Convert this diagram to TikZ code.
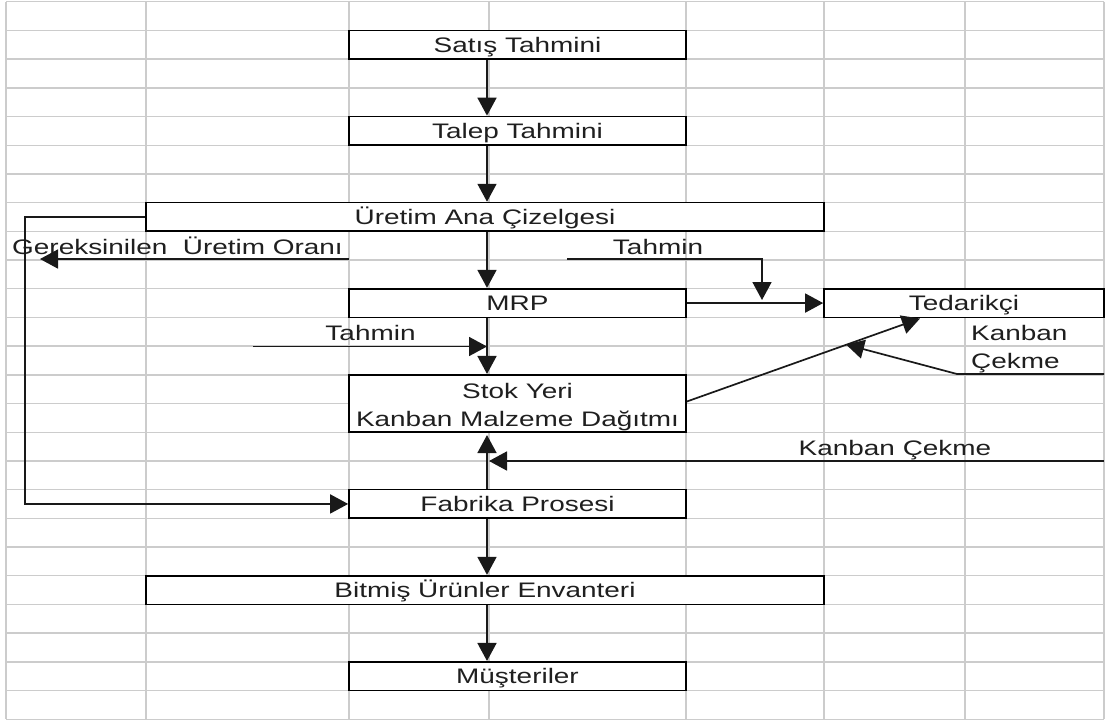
\documentclass[tikz,border=0pt]{standalone}
\usepackage{fontspec}
\setmainfont{Liberation Sans}
\usepackage{graphicx}
\usetikzlibrary{arrows.meta}
\newcommand\wt[1]{\scalebox{1.33}[1]{#1}}
\begin{document}
\begin{tikzpicture}[x=1pt,y=-1pt,
  gridline/.style={draw=gray!40, line width=1.4pt},
  box/.style={draw=black, line width=1.7pt, fill=white, inner sep=0pt,
    minimum height=28.7pt, text height=15pt, text depth=0pt,
    font=\fontsize{21}{28.5}\selectfont, text=black!88},
  lbl/.style={inner sep=0pt, text height=15pt, text depth=0pt,
    font=\fontsize{21}{28.5}\selectfont, text=black!88},
  conn/.style={draw=black!90, line width=1.7pt},
  arr/.style={conn, -{Triangle[length=18pt,width=19pt]}}]
\useasboundingbox (0,0) rectangle (1108,724);
\fill[white] (0,0) rectangle (1108,724);
% spreadsheet grid
\foreach \k in {0,...,25}
  \draw[gridline] (6,{1.7+28.7*\k}) -- (1104,{1.7+28.7*\k});
\foreach \xx in {6,146,349,489,686,824,965,1104}
  \draw[gridline] (\xx,1.7) -- (\xx,719.2);
% boxes
\node[box, minimum width=337pt] (satis) at (517.5,44.75) {\wt{Satış Tahmini}};
\node[box, minimum width=337pt] (talep) at (517.5,130.85) {\wt{Talep Tahmini}};
\node[box, minimum width=678pt] (uretim) at (485,216.95) {\wt{Üretim Ana Çizelgesi}};
\node[box, minimum width=337pt] (mrp) at (517.5,303.05) {\wt{MRP}};
\node[box, minimum width=280pt] (ted) at (964,303.05) {\wt{Tedarikçi}};
\node[box, minimum width=337pt, minimum height=57.4pt] (stok) at (517.5,403.5) {};
\node[lbl] (stok1) at (517.5,390.5) {\wt{Stok Yeri}};
\node[lbl] (stok2) at (517.5,419) {\wt{Kanban Malzeme Dağıtmı}};
\node[box, minimum width=337pt] (fab) at (517.5,503.95) {\wt{Fabrika Prosesi}};
\node[box, minimum width=678pt] (bitmis) at (485,590.05) {\wt{Bitmiş Ürünler Envanteri}};
\node[box, minimum width=337pt] (must) at (517.5,676.15) {\wt{Müşteriler}};
% free labels
\node[lbl, anchor=west] (gerek) at (12,247) {\wt{Gereksinilen\ \ Üretim Oranı}};
\node[lbl] (tah1) at (658,247) {\wt{Tahmin}};
\node[lbl] (tah2) at (370.5,333) {\wt{Tahmin}};
\node[lbl, anchor=west] (kan1) at (971,332.5) {\wt{Kanban}};
\node[lbl, anchor=west] (kan2) at (971,361) {\wt{Çekme}};
\node[lbl] (kan3) at (895,448) {\wt{Kanban Çekme}};
% coordinates
\coordinate (ax) at (487,0);
\coordinate (lc) at (25,0);
\coordinate (g1) at (349,259);
\coordinate (g2) at (40,259);
\coordinate (t1) at (567,259);
\coordinate (t3) at (762,300);
\coordinate (u1) at (253,346.5);
\coordinate (u2) at (487,346.5);
\coordinate (s2) at (920,318.5);
\coordinate (k1) at (1104,374);
\coordinate (k2) at (957,374);
\coordinate (k3) at (846,344.5);
\coordinate (m1) at (1104,461);
\coordinate (m2) at (489,461);
% vertical chain
\draw[arr] (satis.south -| ax) -- (talep.north -| ax);
\draw[arr] (talep.south -| ax) -- (uretim.north -| ax);
\draw[arr] (uretim.south -| ax) -- (mrp.north -| ax);
\draw[arr] (mrp.south -| ax) -- (stok.north -| ax);
\draw[arr, shorten >=2pt] (fab.north -| ax) -- (stok.south -| ax);
\draw[arr] (fab.south -| ax) -- (bitmis.north -| ax);
\draw[arr] (bitmis.south -| ax) -- (must.north -| ax);
% side connectors
\draw[arr] (uretim.west) -| (lc |- fab.west) -- (fab.west);
\draw[arr] (g1) -- (g2);
\draw[arr] (t1) -| (t3);
\draw[arr] (mrp.east) -- (ted.west);
\draw[arr] (u1) -- (u2);
\draw[arr] (stok.east |- 0,401.5) -- (s2);
\draw[arr] (k1) -- (k2) -- (k3);
\draw[arr] (m1) -- (m2);
\end{tikzpicture}
\end{document}
